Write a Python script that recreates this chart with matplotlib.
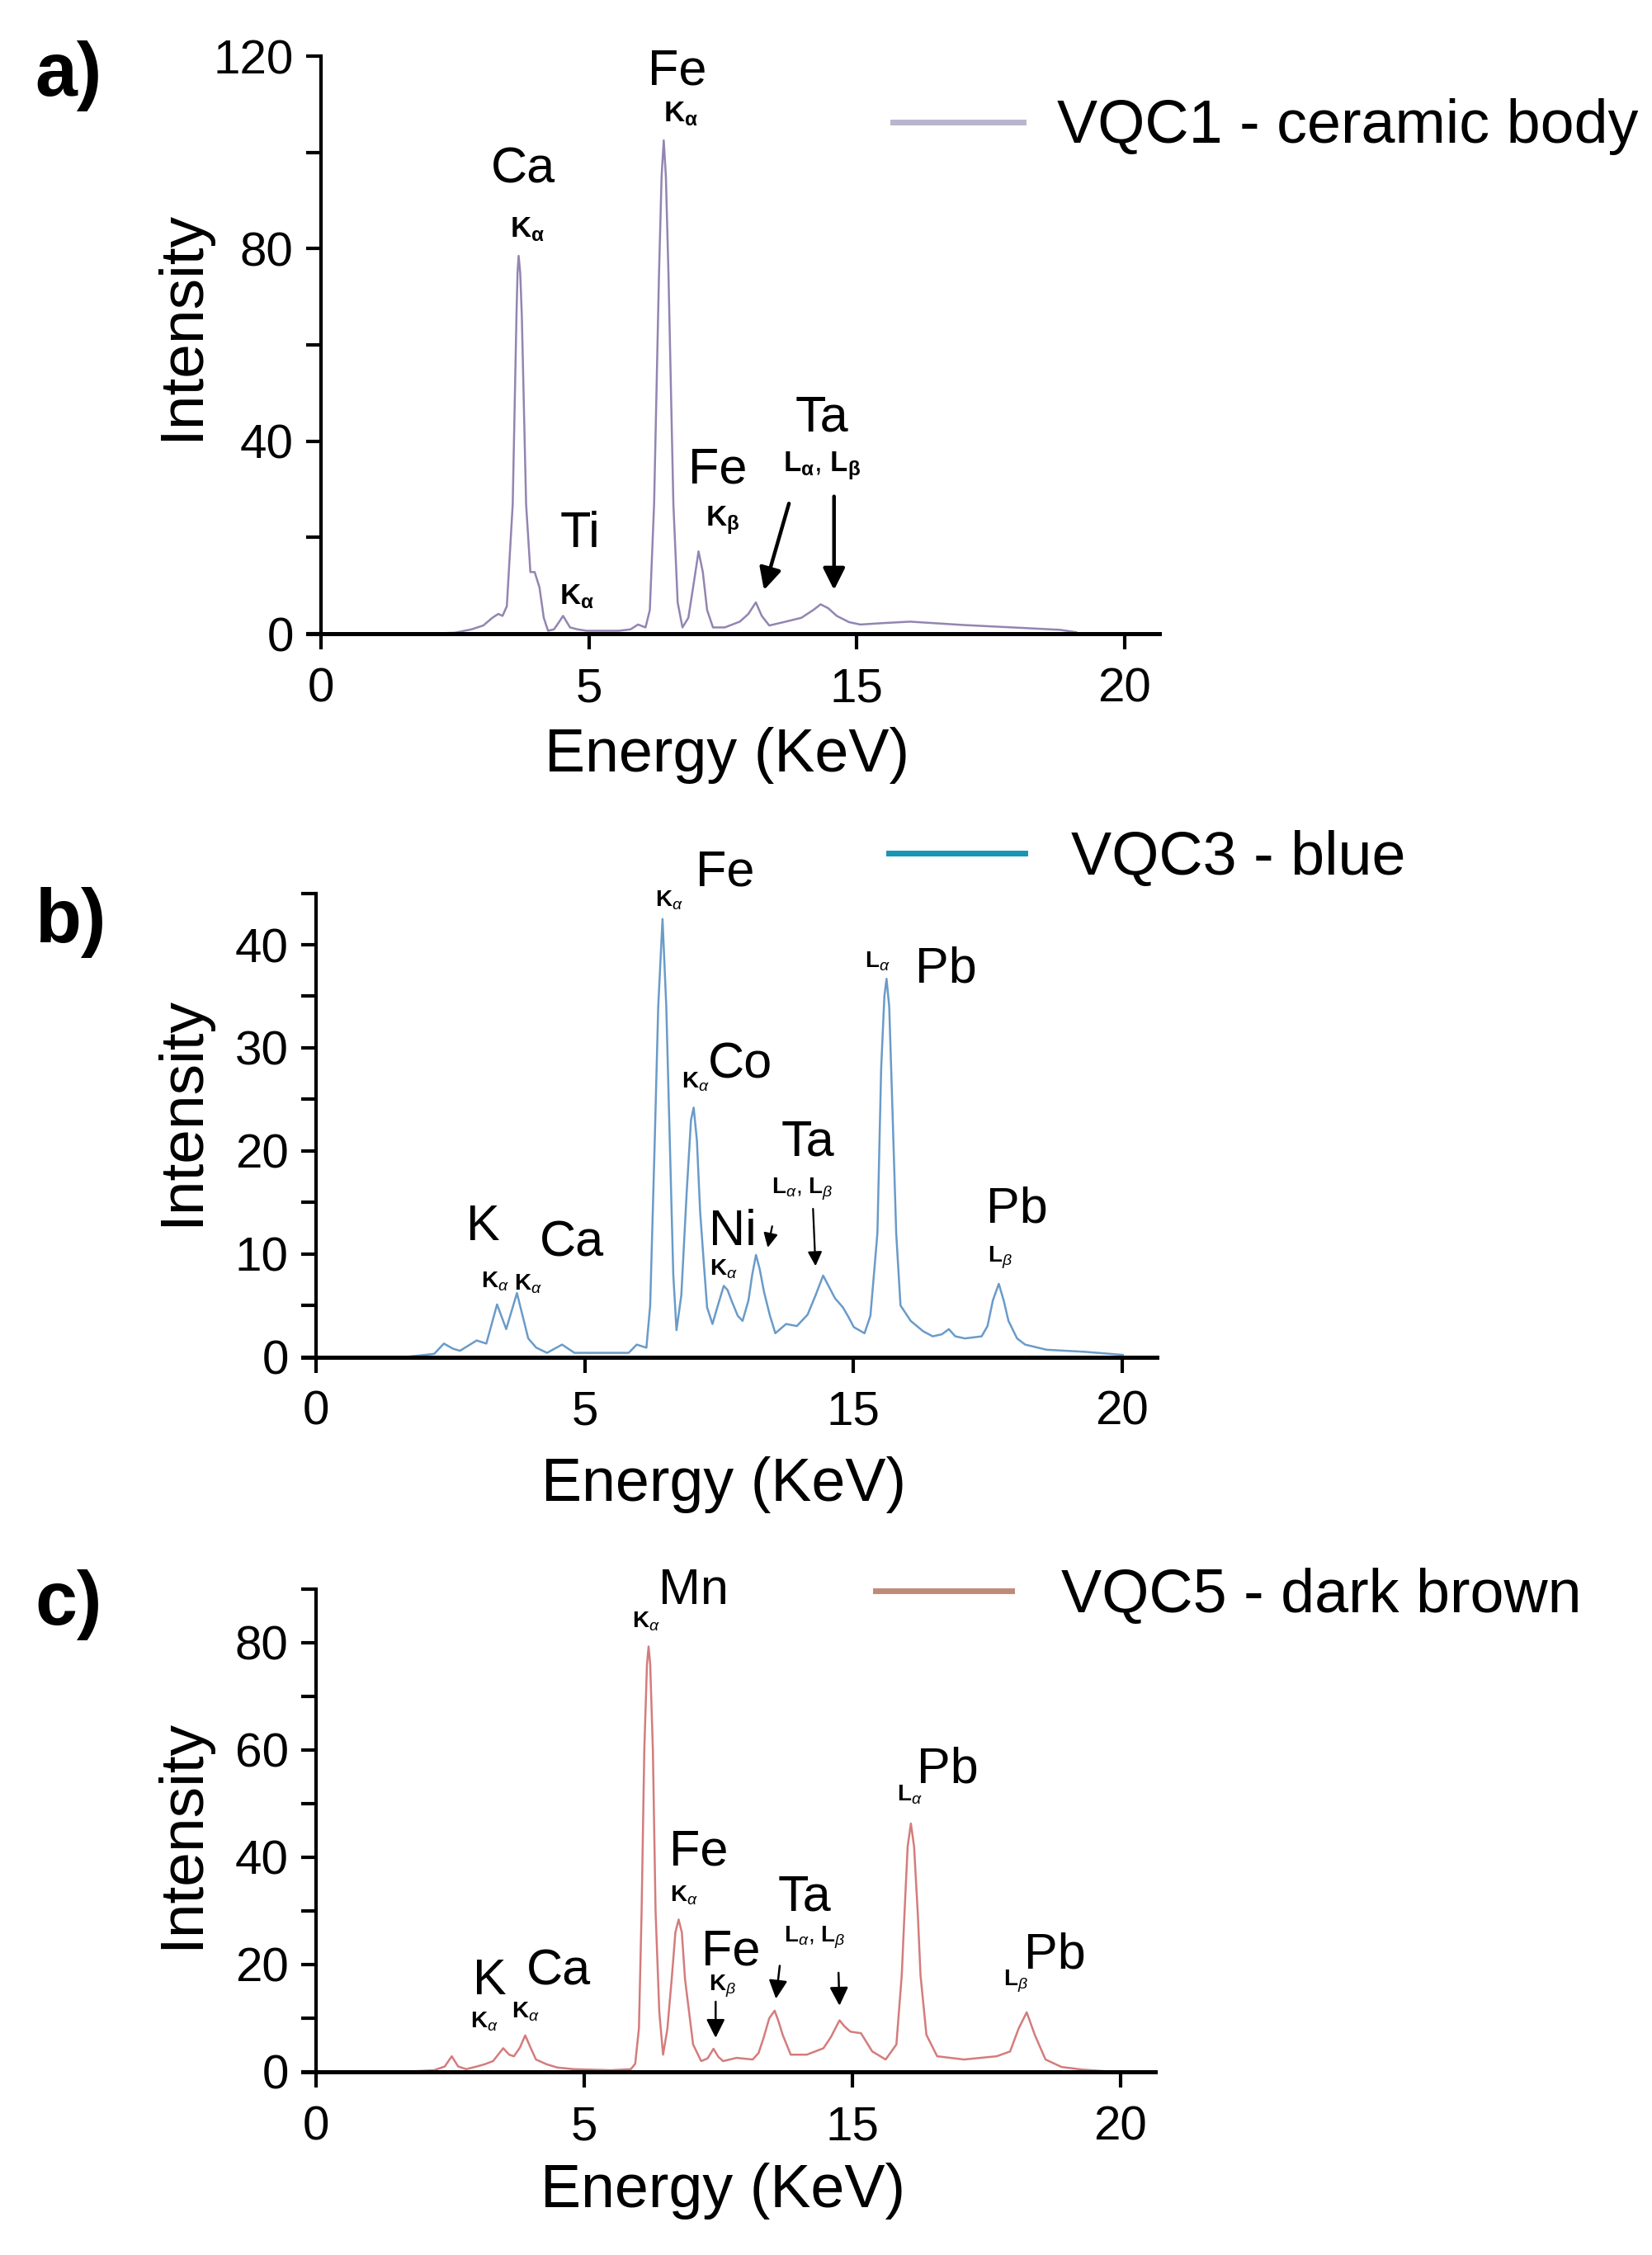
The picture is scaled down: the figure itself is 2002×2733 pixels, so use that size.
import matplotlib
matplotlib.use("Agg")
import matplotlib.pyplot as plt
from matplotlib.lines import Line2D
from matplotlib.ticker import FixedLocator

plt.rcParams['font.family'] = ['Liberation Sans', 'DejaVu Sans']
plt.rcParams['mathtext.fontset'] = 'custom'
plt.rcParams['mathtext.rm'] = 'Liberation Sans'
plt.rcParams['mathtext.it'] = 'Liberation Sans:italic'
plt.rcParams['mathtext.bf'] = 'Liberation Sans:bold'

# ---------------- data ----------------
xtick_pos = [0, 5, 10, 15]
xtick_labels = ["0", "5", "15", "20"]

# a) VQC1 - ceramic body
energy_a = [2.0, 2.5, 2.81, 3.03, 3.2, 3.31, 3.39, 3.47, 3.58, 3.65, 3.67, 3.69, 3.72, 3.75,
            3.83, 3.91, 3.99, 4.08, 4.16, 4.24, 4.35, 4.45, 4.52, 4.65, 4.79, 4.96, 5.56, 5.78,
            5.92, 6.06, 6.14, 6.22, 6.31, 6.36, 6.4, 6.44, 6.49, 6.58, 6.66, 6.75, 6.86, 6.97,
            7.05, 7.13, 7.21, 7.32, 7.54, 7.82, 7.98, 8.12, 8.23, 8.37, 8.64, 8.97, 9.19, 9.33,
            9.47, 9.63, 9.86, 10.07, 10.5, 11.0, 12.0, 13.0, 13.8, 14.1]
intensity_a = [0.0, 0.2, 0.9, 1.7, 3.3, 4.1, 3.7, 5.7, 26.9, 66.0, 75.0, 78.5, 75.0, 66.0,
               26.9, 12.8, 12.8, 9.6, 3.3, 0.6, 0.9, 2.5, 3.7, 1.3, 0.9, 0.6, 0.6, 0.9,
               1.9, 1.3, 4.9, 26.9, 74.0, 95.0, 102.5, 95.0, 74.0, 26.9, 6.5, 1.3, 3.3, 11.2,
               17.1, 12.8, 4.9, 1.3, 1.3, 2.5, 4.1, 6.5, 3.7, 1.7, 2.4, 3.3, 4.9, 6.1,
               5.3, 3.7, 2.4, 1.9, 2.2, 2.5, 1.8, 1.25, 0.8, 0.3]

# b) VQC3 - blue
energy_b = [1.67, 2.2, 2.38, 2.55, 2.68, 2.99, 3.17, 3.37, 3.54, 3.74, 3.95, 4.10, 4.30, 4.58,
            4.81, 5.82, 5.97, 6.15, 6.22, 6.30, 6.37, 6.45, 6.52, 6.59, 6.65, 6.71, 6.80, 6.90,
            6.98, 7.03, 7.09, 7.15, 7.22, 7.28, 7.38, 7.48, 7.59, 7.66, 7.74, 7.85, 7.94, 8.05,
            8.12, 8.19, 8.26, 8.34, 8.45, 8.55, 8.75, 8.95, 9.15, 9.30, 9.44, 9.55, 9.66, 9.81,
            9.92, 10.01, 10.21, 10.32, 10.45, 10.52, 10.58, 10.62, 10.67, 10.73, 10.80, 10.88,
            11.07, 11.30, 11.48, 11.65, 11.78, 11.90, 12.08, 12.39, 12.50, 12.60, 12.71, 12.80,
            12.89, 13.05, 13.20, 13.60, 14.31, 15.02]
intensity_b = [0.0, 0.3, 1.3, 0.8, 0.6, 1.6, 1.3, 5.1, 2.7, 6.2, 1.8, 0.9, 0.4, 1.2,
               0.4, 0.4, 1.2, 0.9, 5.0, 20.0, 34.0, 42.5, 34.0, 20.0, 8.0, 2.6, 6.0, 16.0,
               23.0, 24.2, 21.0, 14.1, 9.0, 4.8, 3.2, 5.0, 6.9, 6.5, 5.4, 4.0, 3.5, 5.5,
               8.0, 9.9, 8.5, 6.3, 4.0, 2.3, 3.2, 3.0, 4.1, 6.0, 7.9, 6.8, 5.7, 4.8,
               3.8, 2.9, 2.3, 4.0, 12.0, 28.0, 35.0, 36.7, 34.0, 24.0, 12.0, 5.0,
               3.5, 2.5, 2.0, 2.2, 2.7, 2.0, 1.8, 2.0, 3.0, 5.5, 7.1, 5.5,
               3.5, 1.8, 1.2, 0.7, 0.5, 0.2]

# c) VQC5 - dark brown
energy_c = [1.6, 2.2, 2.4, 2.53, 2.65, 2.8, 3.0, 3.14, 3.3, 3.49, 3.6, 3.69, 3.8, 3.9, 4.0,
            4.1, 4.3, 4.5, 4.8, 5.5, 5.87, 5.95, 6.02, 6.07, 6.12, 6.17, 6.2, 6.23, 6.28, 6.33,
            6.4, 6.47, 6.55, 6.63, 6.7, 6.76, 6.82, 6.88, 7.03, 7.18, 7.3, 7.41, 7.5, 7.59,
            7.84, 8.14, 8.25, 8.34, 8.45, 8.55, 8.62, 8.7, 8.85, 9.15, 9.46, 9.6, 9.76, 9.85,
            9.96, 10.16, 10.37, 10.62, 10.82, 10.92, 10.97, 11.03, 11.09, 11.15, 11.22, 11.27,
            11.38, 11.58, 12.08, 12.69, 12.94, 13.1, 13.25, 13.4, 13.6, 13.9, 14.3, 14.9]
intensity_c = [0.0, 0.3, 1.0, 2.9, 1.0, 0.5, 1.0, 1.4, 2.0, 4.4, 3.2, 2.9, 4.5, 6.8, 4.5,
               2.3, 1.4, 0.8, 0.5, 0.3, 0.5, 1.5, 8.1, 30.0, 60.0, 76.0, 79.3, 76.0, 60.0, 30.0,
               11.1, 3.2, 8.0, 17.2, 26.0, 28.4, 26.0, 17.2, 5.1, 2.0, 2.5, 4.3, 2.8, 2.0,
               2.6, 2.3, 3.5, 6.2, 10.0, 11.4, 9.5, 6.9, 3.2, 3.2, 4.4, 6.5, 9.6, 8.5,
               7.5, 7.2, 3.8, 2.3, 5.1, 18.0, 29.3, 42.0, 46.3, 42.0, 29.3, 18.0,
               6.9, 2.9, 2.3, 2.9, 3.8, 8.1, 11.1, 6.9, 2.3, 0.9, 0.4, 0.0]

series_labels = ["VQC1 - ceramic body", "VQC3 - blue", "VQC5 - dark brown"]
trace_colors = ["#9385b1", "#6a9bc9", "#d47c7c"]
legend_colors = ["#b9b5cc", "#1796b6", "#bf8b76"]
panel_letters = ["a)", "b)", "c)"]

# ---------------- layout (pixels in a 2002 x 2733 canvas) ----------------
W, H = 2002, 2733
fig = plt.figure(figsize=(W / 100, H / 100), dpi=100)

XMIN, XMAX = -0.25, 15.65
# (x0 px of E=0, px per keV, baseline px, top px, ymax)
geo = [
    (389.0, 64.9, 768.0, 68.0, 120),
    (383.0, 65.1, 1644.6, 1082.6, 45),
    (383.0, 65.0, 2511.0, 1926.0, 90),
]
ymajor = [[0, 40, 80, 120], [0, 10, 20, 30, 40], [0, 20, 40, 60, 80]]
yminor = [[20, 60, 100], [5, 15, 25, 35, 45], [10, 30, 50, 70, 90]]

energies = [energy_a, energy_b, energy_c]
intens = [intensity_a, intensity_b, intensity_c]

FS_TICK = 42
FS_LAB = 53
FS_LEG = 53

# legend: (line start px, centre y px, handlelength, handletextpad)
leg_geo = [(1082, 154, 2.15, 0.56), (1077, 1040, 2.24, 0.76), (1061, 1934, 2.24, 0.82)]
xlab_y_px = [915, 1800, 2655]
ylab_y_px = [394, 1346, 2222]
YLAB_X_PX = 221

axes = []
for i, (x0, s, base, top, ymax) in enumerate(geo):
    left = x0 + XMIN * s
    right = x0 + XMAX * s
    ax = fig.add_axes([left / W, 1 - base / H, (right - left) / W, (base - top) / H])
    axes.append(ax)
    ax.plot(energies[i], intens[i], color=trace_colors[i], lw=1.8, solid_joinstyle='round')
    ax.set_xlim(XMIN, XMAX)
    ax.set_ylim(0, ymax)
    for sp in ['top', 'right']:
        ax.spines[sp].set_visible(False)
    ax.spines['left'].set_position(('data', 0))
    ax.spines['left'].set_linewidth(3.0)
    ax.spines['bottom'].set_linewidth(3.6)
    ax.set_xticks(xtick_pos)
    ax.set_xticklabels(xtick_labels)
    ax.set_yticks(ymajor[i])
    ax.yaxis.set_minor_locator(FixedLocator(yminor[i]))
    ax.tick_params(axis='x', which='major', direction='out', length=14, width=3,
                   labelsize=FS_TICK, pad=15)
    ax.tick_params(axis='y', which='major', direction='out', length=13, width=3,
                   labelsize=FS_TICK, pad=11)
    ax.tick_params(axis='y', which='minor', direction='out', length=13, width=3)
    ax.set_xlabel("Energy (KeV)", fontsize=FS_LAB)
    ax.set_ylabel("Intensity", fontsize=54)
    ax.xaxis.label.set_va('center')
    ax.xaxis.set_label_coords(0.493, (base - xlab_y_px[i]) / (base - top))
    ax.yaxis.label.set_va('center')
    ax.yaxis.set_label_coords((YLAB_X_PX - left) / (right - left),
                              (base - ylab_y_px[i]) / (base - top))
    # legend with a proxy line
    h = Line2D([], [], color=legend_colors[i], lw=5)
    lx, ly, hl, hp = leg_geo[i]
    ax.legend([h], [series_labels[i]], loc='center left',
              bbox_to_anchor=(lx / W, 1 - ly / H),
              bbox_transform=fig.transFigure, frameon=False, fontsize=FS_LEG,
              handlelength=hl, handletextpad=hp, borderpad=0, borderaxespad=0)

# panel letters
for (px, py), letter in zip([(83, 92), (86, 1118), (83, 1945)], panel_letters):
    fig.text(px / W, 1 - py / H, letter, fontsize=66, fontweight='bold',
             ha='center', va='center')

# ---------------- peak annotations ----------------
EL = 44      # element label size
KA_A = 25    # bold sub-labels in panel a
KB = 20      # small sub-labels in panels b, c

ax = axes[0]
bka = r'$\mathbf{K}_{\mathbf{\alpha}}$'
ax.text(3.78, 96.4, "Ca", fontsize=EL, ha='center', va='center')
ax.text(3.85, 84.0, bka, fontsize=KA_A, ha='center', va='center')
ax.text(6.65, 116.7, "Fe", fontsize=EL, ha='center', va='center', clip_on=False)
ax.text(6.72, 108.0, bka, fontsize=KA_A, ha='center', va='center')
ax.text(4.84, 20.6, "Ti", fontsize=EL, ha='center', va='center')
ax.text(4.77, 7.7, bka, fontsize=KA_A, ha='center', va='center')
ax.text(7.41, 33.9, "Fe", fontsize=EL, ha='center', va='center')
ax.text(7.50, 23.5, r'$\mathbf{K}_{\mathbf{\beta}}$', fontsize=KA_A, ha='center', va='center')
ax.text(9.35, 44.8, "Ta", fontsize=EL, ha='center', va='center')
ax.text(9.35, 34.8, r'$\mathbf{L}_{\mathbf{\alpha}}$, $\mathbf{L}_{\mathbf{\beta}}$',
        fontsize=KA_A, ha='center', va='center')
arr_a = dict(arrowstyle='-|>', lw=3.2, color='black', mutation_scale=40)
ax.annotate("", xy=(8.26, 8.6), xytext=(8.75, 27.5), arrowprops=arr_a)
ax.annotate("", xy=(9.58, 8.6), xytext=(9.58, 29.0), arrowprops=arr_a)

ax = axes[1]
ka = r'$\mathbf{K}_{\alpha}$'
kb = r'$\mathbf{K}_{\beta}$'
la = r'$\mathbf{L}_{\alpha}$'
lb = r'$\mathbf{L}_{\beta}$'
lab = r'$\mathbf{L}_{\alpha}$, $\mathbf{L}_{\beta}$'
ax.text(7.61, 47.0, "Fe", fontsize=EL, ha='center', va='center', clip_on=False)
ax.text(6.58, 44.3, ka, fontsize=KB, ha='center', va='center', clip_on=False)
ax.text(11.73, 37.6, "Pb", fontsize=EL, ha='center', va='center')
ax.text(10.45, 38.4, la, fontsize=KB, ha='center', va='center')
ax.text(7.89, 28.3, "Co", fontsize=EL, ha='center', va='center')
ax.text(7.06, 26.7, ka, fontsize=KB, ha='center', va='center')
ax.text(9.15, 20.8, "Ta", fontsize=EL, ha='center', va='center')
ax.text(9.05, 16.3, lab, fontsize=KB, ha='center', va='center')
ax.text(13.04, 14.3, "Pb", fontsize=EL, ha='center', va='center')
ax.text(12.74, 9.6, lb, fontsize=KB, ha='center', va='center')
ax.text(3.11, 12.6, "K", fontsize=EL, ha='center', va='center')
ax.text(4.76, 11.0, "Ca", fontsize=EL, ha='center', va='center')
ax.text(3.34, 7.3, ka, fontsize=KB, ha='center', va='center')
ax.text(3.95, 7.1, ka, fontsize=KB, ha='center', va='center')
ax.text(7.76, 12.1, "Ni", fontsize=EL, ha='center', va='center')
ax.text(7.59, 8.5, ka, fontsize=KB, ha='center', va='center')
arr_b = dict(arrowstyle='-|>', lw=1.6, color='black', mutation_scale=26)
ax.annotate("", xy=(8.40, 10.4), xytext=(8.50, 12.9), arrowprops=arr_b)
ax.annotate("", xy=(9.30, 8.6), xytext=(9.25, 14.6), arrowprops=arr_b)

ax = axes[2]
arr_c = dict(arrowstyle='-|>', lw=1.8, color='black', mutation_scale=34)
ax.text(7.03, 89.6, "Mn", fontsize=EL, ha='center', va='center', clip_on=False)
ax.text(6.15, 83.9, ka, fontsize=KB, ha='center', va='center')
ax.text(11.78, 56.3, "Pb", fontsize=EL, ha='center', va='center')
ax.text(11.06, 51.6, la, fontsize=KB, ha='center', va='center')
ax.text(7.13, 40.9, "Fe", fontsize=EL, ha='center', va='center')
ax.text(6.86, 32.9, ka, fontsize=KB, ha='center', va='center')
ax.text(9.11, 32.5, "Ta", fontsize=EL, ha='center', va='center')
ax.text(9.29, 25.0, lab, fontsize=KB, ha='center', va='center')
ax.text(7.74, 22.3, "Fe", fontsize=EL, ha='center', va='center')
ax.text(7.57, 16.0, kb, fontsize=KB, ha='center', va='center')
ax.text(13.78, 21.7, "Pb", fontsize=EL, ha='center', va='center')
ax.text(13.05, 16.9, lb, fontsize=KB, ha='center', va='center')
ax.text(3.24, 16.9, "K", fontsize=EL, ha='center', va='center')
ax.text(4.52, 18.6, "Ca", fontsize=EL, ha='center', va='center')
ax.text(3.14, 9.4, ka, fontsize=KB, ha='center', va='center')
ax.text(3.90, 11.2, ka, fontsize=KB, ha='center', va='center')
ax.annotate("", xy=(7.45, 5.9), xytext=(7.45, 13.5), arrowprops=arr_c)
ax.annotate("", xy=(8.57, 13.2), xytext=(8.65, 20.2), arrowprops=arr_c)
ax.annotate("", xy=(9.76, 11.9), xytext=(9.74, 18.9), arrowprops=arr_c)

fig.savefig("out.png", dpi=100, facecolor='white')
